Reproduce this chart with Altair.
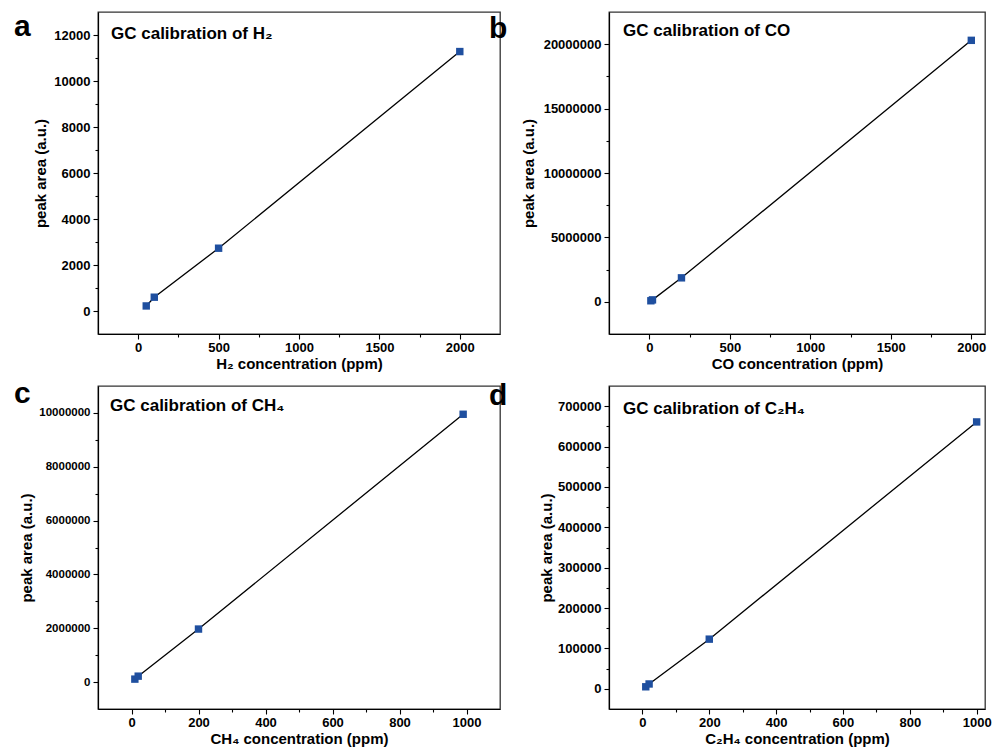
import altair as alt
import pandas as pd

# ---- data ----
h2_conc = [50, 100, 500, 2000]
h2_area = [220, 600, 2730, 11280]
co_conc = [10, 20, 200, 2000]
co_area = [80000, 150000, 1860000, 20300000]
ch4_conc = [10, 20, 200, 990]
ch4_area = [110000, 220000, 1970000, 9950000]
c2h4_conc = [10, 20, 200, 1000]
c2h4_area = [5000, 12000, 123000, 661000]

FONT = "Liberation Sans"
BLUE = "#1f4f9f"


def panel(letter, gtitle, xtitle, conc, area, xdom, xvals, xmaj, ydom, yvals, ymaj,
          w, h, letter_xy, title_xy, ylab_size=13, ytitle_pad=5):
    df = pd.DataFrame({"conc": conc, "area": area})
    x = alt.X(
        "conc:Q",
        scale=alt.Scale(domain=xdom, nice=False, zero=False),
        axis=alt.Axis(
            title=xtitle, values=xvals,
            labelExpr=f"datum.value % {xmaj} == 0 ? format(datum.value, 'd') : ''",
            tickSize={"condition": {"test": f"datum.value % {xmaj} != 0", "value": 3}, "value": 5},
            labelOverlap=False, labelFlush=False, titlePadding=2, labelPadding=2,
        ),
    )
    y = alt.Y(
        "area:Q",
        scale=alt.Scale(domain=ydom, nice=False, zero=False),
        axis=alt.Axis(
            title="peak area (a.u.)", values=yvals,
            labelExpr=f"datum.value % {ymaj} == 0 ? format(datum.value, 'd') : ''",
            tickSize={"condition": {"test": f"datum.value % {ymaj} != 0", "value": 3}, "value": 5},
            labelOverlap=False, labelFlush=False, titlePadding=ytitle_pad, labelPadding=3,
            labelFontSize=ylab_size,
        ),
    )
    base = alt.Chart(df)
    line = base.mark_line(color="black", strokeWidth=1.3).encode(x=x, y=y, order="conc:Q")
    pts = base.mark_point(shape="square", filled=True, opacity=1, size=55, color=BLUE).encode(x=x, y=y)
    lt = alt.Chart(pd.DataFrame({"t": [letter]})).mark_text(
        font=FONT, fontWeight="bold", fontSize=30, align="left", baseline="alphabetic", color="black"
    ).encode(text="t:N", x=alt.value(letter_xy[0]), y=alt.value(letter_xy[1]))
    tt = alt.Chart(pd.DataFrame({"t": [gtitle]})).mark_text(
        font=FONT, fontWeight="bold", fontSize=17, align="left", baseline="middle", color="black"
    ).encode(text="t:N", x=alt.value(title_xy[0]), y=alt.value(title_xy[1]))
    return alt.layer(line, pts, lt, tt).properties(width=w, height=h)


pa = panel("a", "GC calibration of H₂", "H₂ concentration (ppm)", h2_conc, h2_area,
           [-250, 2250], list(range(0, 2001, 250)), 500,
           [-1000, 13000], list(range(0, 12001, 1000)), 2000,
           402, 322, (-84, 24), (13, 22), 13, 5)
pb = panel("b", "GC calibration of CO", "CO concentration (ppm)", co_conc, co_area,
           [-250, 2085], list(range(0, 2001, 250)), 500,
           [-2500000, 22500000], list(range(0, 20000001, 2500000)), 5000000,
           376, 322, (-120, 26), (14, 19), 13, 7)
pc = panel("c", "GC calibration of CH₄", "CH₄ concentration (ppm)", ch4_conc, ch4_area,
           [-100, 1100], list(range(0, 1001, 100)), 200,
           [-1000000, 11000000], list(range(0, 10000001, 1000000)), 2000000,
           402, 323, (-84, 17), (12, 20), 11.5, 4)
pd_ = panel("d", "GC calibration of C₂H₄", "C₂H₄ concentration (ppm)", c2h4_conc, c2h4_area,
            [-100, 1025], list(range(0, 1001, 100)), 200,
            [-50000, 750000], list(range(0, 700001, 50000)), 100000,
            376, 323, (-120, 19), (14, 23), 13, 3)

chart = alt.concat(
    pa, pb, pc, pd_, columns=2,
    spacing=alt.RowColnumber(row=52, column=109), bounds="flush",
).properties(
    padding={"left": 13, "top": 11, "right": 5, "bottom": 5},
    background="white",
).configure_view(
    stroke="#333333", strokeWidth=1.3
).configure_axis(
    grid=False, domainColor="black", domainWidth=1.2, tickColor="black", tickWidth=1.1,
    labelFont=FONT, labelFontWeight="bold", labelFontSize=13, labelColor="black",
    titleFont=FONT, titleFontWeight="bold", titleFontSize=15, titleColor="black",
)

chart.save("out.html", embed_options={"renderer": "svg", "actions": False})
